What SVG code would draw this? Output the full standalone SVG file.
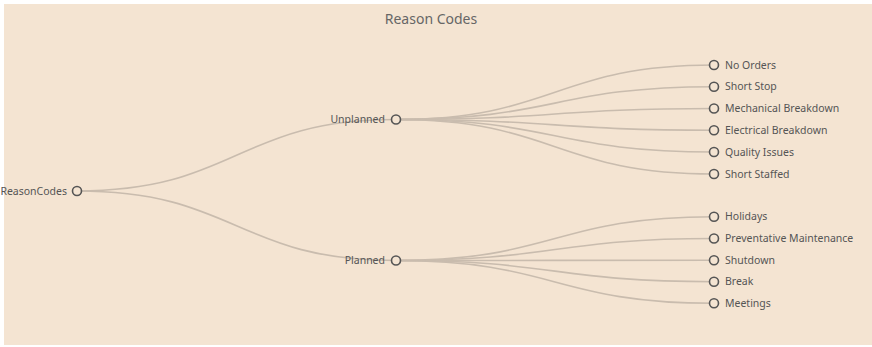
<svg xmlns="http://www.w3.org/2000/svg" width="872" height="347" viewBox="0 0 872 347">
<style>
.bg{fill:#f4e4d2}
.link{fill:none;stroke:#c9bcae;stroke-width:1.6}
.node circle{fill:#f4e4d2;stroke:#555;stroke-width:1.6}
.node text{font-family:"Noto Sans","Open Sans",sans-serif;font-size:10.5px;fill:#555}
.title{font-family:"Noto Sans","Open Sans",sans-serif;font-size:14px;fill:#666}
</style>
<rect width="872" height="347" fill="#ffffff"/>
<rect class="bg" x="4" y="4" width="868" height="341"/>
<text class="title" x="431" y="24" text-anchor="middle">Reason Codes</text>
<g id="links">
<path class="link" d="M77,191C236.5,191 236.5,119.5 396,119.5"/>
<path class="link" d="M77,191C236.5,191 236.5,260.5 396,260.5"/>
<path class="link" d="M396,119.5C555,119.5 555,65 714,65"/>
<path class="link" d="M396,119.5C555,119.5 555,86.7 714,86.7"/>
<path class="link" d="M396,119.5C555,119.5 555,108.5 714,108.5"/>
<path class="link" d="M396,119.5C555,119.5 555,130.3 714,130.3"/>
<path class="link" d="M396,119.5C555,119.5 555,152 714,152"/>
<path class="link" d="M396,119.5C555,119.5 555,174 714,174"/>
<path class="link" d="M396,260.5C555,260.5 555,216.7 714,216.7"/>
<path class="link" d="M396,260.5C555,260.5 555,238.5 714,238.5"/>
<path class="link" d="M396,260.5C555,260.5 555,260.3 714,260.3"/>
<path class="link" d="M396,260.5C555,260.5 555,281.7 714,281.7"/>
<path class="link" d="M396,260.5C555,260.5 555,303.3 714,303.3"/>
</g>
<g id="node-reasoncodes" class="node"><circle cx="77" cy="191" r="4.5"/><text x="67" y="191" dy="0.35em" text-anchor="end">ReasonCodes</text></g>
<g id="node-unplanned" class="node"><circle cx="396" cy="119.5" r="4.5"/><text x="385" y="119.5" dy="0.35em" text-anchor="end">Unplanned</text></g>
<g id="node-planned" class="node"><circle cx="396" cy="260.5" r="4.5"/><text x="385" y="260.5" dy="0.35em" text-anchor="end">Planned</text></g>
<g id="node-no-orders" class="node"><circle cx="714" cy="65" r="4.5"/><text x="725" y="65" dy="0.35em">No Orders</text></g>
<g id="node-short-stop" class="node"><circle cx="714" cy="86.7" r="4.5"/><text x="725" y="86.7" dy="0.35em">Short Stop</text></g>
<g id="node-mechanical-breakdown" class="node"><circle cx="714" cy="108.5" r="4.5"/><text x="725" y="108.5" dy="0.35em">Mechanical Breakdown</text></g>
<g id="node-electrical-breakdown" class="node"><circle cx="714" cy="130.3" r="4.5"/><text x="725" y="130.3" dy="0.35em">Electrical Breakdown</text></g>
<g id="node-quality-issues" class="node"><circle cx="714" cy="152" r="4.5"/><text x="725" y="152" dy="0.35em">Quality Issues</text></g>
<g id="node-short-staffed" class="node"><circle cx="714" cy="174" r="4.5"/><text x="725" y="174" dy="0.35em">Short Staffed</text></g>
<g id="node-holidays" class="node"><circle cx="714" cy="216.7" r="4.5"/><text x="725" y="216.7" dy="0.35em">Holidays</text></g>
<g id="node-preventative-maintenance" class="node"><circle cx="714" cy="238.5" r="4.5"/><text x="725" y="238.5" dy="0.35em">Preventative Maintenance</text></g>
<g id="node-shutdown" class="node"><circle cx="714" cy="260.3" r="4.5"/><text x="725" y="260.3" dy="0.35em">Shutdown</text></g>
<g id="node-break" class="node"><circle cx="714" cy="281.7" r="4.5"/><text x="725" y="281.7" dy="0.35em">Break</text></g>
<g id="node-meetings" class="node"><circle cx="714" cy="303.3" r="4.5"/><text x="725" y="303.3" dy="0.35em">Meetings</text></g>
</svg>
